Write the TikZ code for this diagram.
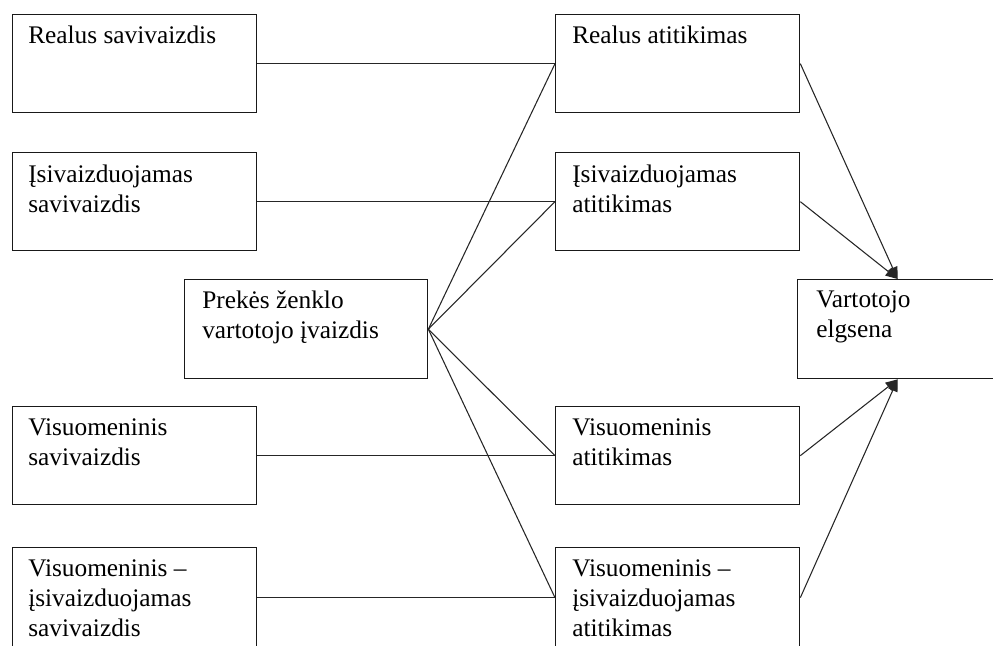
\documentclass[tikz,border=0pt]{standalone}
\usepackage{fontspec}
\setmainfont{Liberation Serif}
\usetikzlibrary{arrows.meta,calc}
\begin{document}
\begin{tikzpicture}[x=0.75pt,y=-0.75pt,
  box/.style={draw=black!90, line width=1pt, rectangle, inner sep=0pt,
              anchor=north west, minimum width=183pt, minimum height=73.5pt},
  lastbox/.style={box, minimum height=75pt},
  lbl/.style={anchor=north west, inner sep=0pt, align=left,
              font=\fontsize{19}{22.5}\selectfont},
  conn/.style={draw=black!85, line width=0.8pt},
  arr/.style={conn, -{Triangle[length=9pt,width=7.5pt]}}]
\useasboundingbox (0,0) rectangle (993,646);
\clip (0,0) rectangle (993,646);

% left column: kinds of self-image
\node[box] (rs) at (12,14) {};
\node[box] (is) at (12,152) {};
\node[box] (vs) at (12,406) {};
\node[lastbox] (vis) at (12,547) {};

% centre: brand user image
\node[box, minimum width=182.25pt, minimum height=74.25pt] (pz) at (184,279) {};

% right column: kinds of congruence
\node[box] (ra) at (555,14) {};
\node[box] (ia) at (555,152) {};
\node[box] (va) at (555,406) {};
\node[lastbox] (via) at (555,547) {};

% outcome
\node[box, minimum width=150pt, minimum height=74.25pt] (ve) at (797,279) {};

% texts
\node[lbl] (rs-t) at ($(rs.north west)+(16,9.5)$) {\rule{0pt}{15pt}Realus savivaizdis};
\node[lbl] (is-t) at ($(is.north west)+(16,10.5)$) {\rule{0pt}{15pt}Įsivaizduojamas\\savivaizdis};
\node[lbl] (vs-t) at ($(vs.north west)+(16,9.5)$) {\rule{0pt}{15pt}Visuomeninis\\savivaizdis};
\node[lbl] (vis-t) at ($(vis.north west)+(16,9.5)$) {\rule{0pt}{15pt}Visuomeninis –\\įsivaizduojamas\\savivaizdis};
\node[lbl] (pz-t) at ($(pz.north west)+(18,9)$) {\rule{0pt}{15pt}Prekės ženklo\\vartotojo įvaizdis};
\node[lbl] (ra-t) at ($(ra.north west)+(17,9.5)$) {\rule{0pt}{15pt}Realus atitikimas};
\node[lbl] (ia-t) at ($(ia.north west)+(17,10.5)$) {\rule{0pt}{15pt}Įsivaizduojamas\\atitikimas};
\node[lbl] (va-t) at ($(va.north west)+(17,9.5)$) {\rule{0pt}{15pt}Visuomeninis\\atitikimas};
\node[lbl] (via-t) at ($(via.north west)+(17,9.5)$) {\rule{0pt}{15pt}Visuomeninis –\\įsivaizduojamas\\atitikimas};
\node[lbl] (ve-t) at ($(ve.north west)+(19,8.5)$) {\rule{0pt}{15pt}Vartotojo\\elgsena};

% self-image to congruence
\draw[conn] (rs.east) -- (ra.west);
\draw[conn] (is.east) -- (ia.west);
\draw[conn] (vs.east) -- (va.west);
\draw[conn] (vis.east) -- (via.west);

% brand image to congruence
\draw[conn] (pz.east) -- (ra.west);
\draw[conn] (pz.east) -- (ia.west);
\draw[conn] (pz.east) -- (va.west);
\draw[conn] (pz.east) -- (via.west);

% congruence to behaviour
\draw[arr] (ra.east) -- (ve.north);
\draw[arr] (ia.east) -- (ve.north);
\draw[arr] (va.east) -- (ve.south);
\draw[arr] (via.east) -- (ve.south);
\end{tikzpicture}
\end{document}
